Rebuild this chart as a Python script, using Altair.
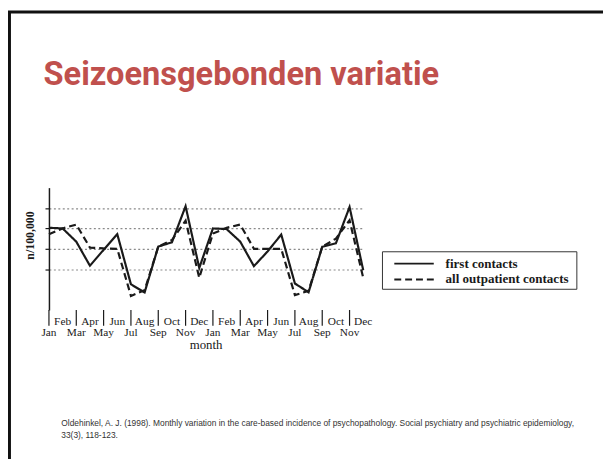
import altair as alt
import pandas as pd

# ---------------- data ----------------
months = ["Jan", "Feb", "Mar", "Apr", "May", "Jun",
          "Jul", "Aug", "Sep", "Oct", "Nov", "Dec"] * 2
first_contacts = [4.03, 4.00, 3.35, 2.17, 2.95, 3.72, 1.26, 0.86, 3.11, 3.32, 5.09, 2.06,
                  4.00, 3.97, 3.35, 2.15, 2.87, 3.70, 1.30, 0.87, 3.10, 3.27, 5.05, 1.95]
all_outpatient = [3.71, 4.00, 4.19, 3.06, 3.02, 3.00, 0.69, 0.97, 3.10, 3.43, 4.38, 1.58,
                  3.75, 4.03, 4.19, 3.00, 3.00, 3.00, 0.73, 0.94, 3.10, 3.50, 4.40, 1.58]
series_names = ["first contacts", "all outpatient contacts"]
y_ticks = [2, 3, 4, 5]
x_title = "month"
y_title = "n/100,000"
slide_title = "Seizoensgebonden variatie"
citation_lines = [
    "Oldehinkel, A. J. (1998). Monthly variation in the care-based incidence of psychopathology. "
    "Social psychiatry and psychiatric epidemiology,",
    "33(3), 118-123.",
]

# ---------------- layout ----------------
W, H = 318.5, 124
PAD = {"left": 41.5, "top": 179, "right": 243, "bottom": 151}
SERIF = "Liberation Serif"
INK = "#1a1a1a"

idx = list(range(len(months)))
df = pd.DataFrame({
    "idx": idx * 2,
    "value": first_contacts + all_outpatient,
    "series": [series_names[0]] * len(idx) + [series_names[1]] * len(idx),
})

x_scale = alt.Scale(domain=[0, 23], nice=False, zero=False)
y_scale = alt.Scale(domain=[0, 6], nice=False)
pix = alt.Scale(domain=[0, H], range=[0, H])

lines = alt.Chart(df).mark_line(strokeWidth=2.2, color=INK).encode(
    x=alt.X("idx:Q", scale=x_scale,
            axis=alt.Axis(values=idx, labels=False, tickSize=4, tickColor=INK, tickWidth=1.2,
                          domainColor=INK, domainWidth=1.5, grid=False, title=None)),
    y=alt.Y("value:Q", scale=y_scale,
            axis=alt.Axis(values=y_ticks, labels=False, tickSize=4, tickColor=INK,
                          tickWidth=1.2, domainColor=INK, domainWidth=1.5,
                          grid=True, gridDash=[2, 2.5], gridColor="#8a8a8a", gridWidth=1.2,
                          title=y_title, titleFont=SERIF, titleFontSize=12,
                          titleFontWeight="bold", titleColor=INK, titleAngle=270,
                          titleX=-20, titleY=48, titleAlign="center",
                          titleBaseline="middle")),
    strokeDash=alt.StrokeDash("series:N",
                              scale=alt.Scale(domain=series_names, range=[[1, 0], [7, 4]]),
                              legend=None),
    detail="series:N",
)

long_ticks = alt.Chart(pd.DataFrame({"idx": idx[::2]})).mark_rule(
    color=INK, strokeWidth=1.2).encode(
    x=alt.X("idx:Q", scale=x_scale, axis=None),
    y=alt.value(H), y2=alt.value(H + 16))

lab_df = pd.DataFrame({"idx": idx, "m": months})
lower_labels = alt.Chart(lab_df[lab_df.idx % 2 == 0]).mark_text(
    font=SERIF, fontSize=11.5, color=INK, baseline="middle", align="center").encode(
    x=alt.X("idx:Q", scale=x_scale, axis=None), y=alt.value(H + 23), text="m:N")
upper_labels = alt.Chart(lab_df[lab_df.idx % 2 == 1]).mark_text(
    font=SERIF, fontSize=11.5, color=INK, baseline="middle", align="center").encode(
    x=alt.X("idx:Q", scale=x_scale, axis=None), y=alt.value(H + 12), text="m:N")
x_title_mark = alt.Chart(pd.DataFrame({"t": [x_title]})).mark_text(
    font=SERIF, fontSize=13, color=INK, baseline="middle", align="center").encode(
    text="t:N", x=alt.value(W / 2), y=alt.value(H + 36))

# legend (drawn)
one = pd.DataFrame({"k": [0]})
LX = 338
leg_box = alt.Chart(one).mark_rect(fill="white", stroke="#333", strokeWidth=1).encode(
    x=alt.value(LX), x2=alt.value(LX + 197), y=alt.value(65), y2=alt.value(103))
leg_solid = alt.Chart(one).mark_rule(color=INK, strokeWidth=2).encode(
    x=alt.value(LX + 12), x2=alt.value(LX + 52), y=alt.value(77))
leg_dash = alt.Chart(one).mark_rule(color=INK, strokeWidth=2, strokeDash=[7, 4]).encode(
    x=alt.value(LX + 12), x2=alt.value(LX + 52), y=alt.value(93))
leg_text = alt.Chart(pd.DataFrame({"s": series_names, "yy": [77, 93]})).mark_text(
    font=SERIF, fontSize=13.2, fontWeight="bold", color=INK, align="left",
    baseline="middle").encode(
    text="s:N", x=alt.value(LX + 64),
    y=alt.Y("yy:Q", scale=pix, axis=None))

# slide decorations
title_mark = alt.Chart(pd.DataFrame({"t": [slide_title]})).mark_text(
    font="Roboto", fontWeight="bold", fontSize=33, color="#C0504D",
    align="left", baseline="alphabetic").encode(
    text="t:N", x=alt.value(-5.5), y=alt.value(-104))
cite_mark = alt.Chart(pd.DataFrame({"t": citation_lines, "yy": [239, 251]})).mark_text(
    font="Liberation Sans", fontSize=8.5, color="#333", align="left",
    baseline="middle").encode(
    text="t:N", x=alt.value(12.5),
    y=alt.Y("yy:Q", scale=pix, axis=None))
frame_top = alt.Chart(one).mark_rule(color="#111", strokeWidth=3).encode(
    x=alt.value(-41.5), x2=alt.value(W + 243), y=alt.value(-178))
frame_left = alt.Chart(one).mark_rule(color="#111", strokeWidth=3).encode(
    x=alt.value(-40), y=alt.value(-179), y2=alt.value(H + 151))

chart = alt.layer(
    frame_top, frame_left, title_mark, cite_mark,
    lines, long_ticks, lower_labels, upper_labels, x_title_mark,
    leg_box, leg_solid, leg_dash, leg_text,
).resolve_scale(y="independent").properties(
    width=W, height=H, padding=PAD,
    autosize=alt.AutoSizeParams(type="none"),
    background="white",
).configure_view(stroke=None)

chart.save("out.html", embed_options={"renderer": "svg", "actions": False})
